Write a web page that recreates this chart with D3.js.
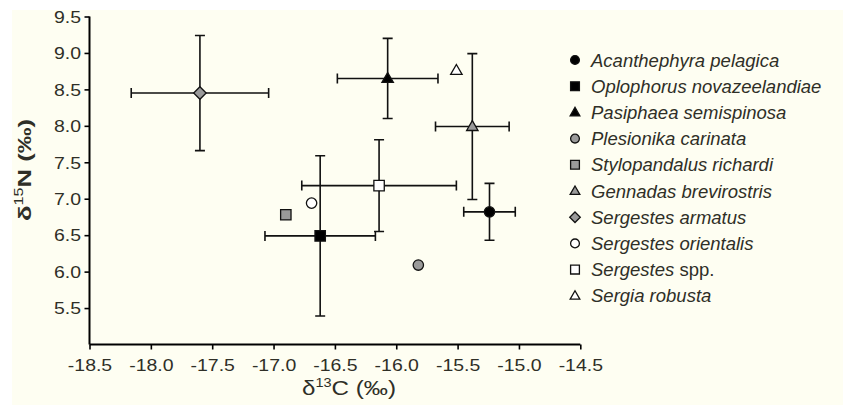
<!DOCTYPE html>
<html>
<head>
<meta charset="utf-8">
<script src="https://cdn.jsdelivr.net/npm/d3@7"></script>
<style>
  body { margin: 0; background: #ffffff; }
  text { font-family: "Liberation Sans", Arial, sans-serif; fill: #2f2f27; }
</style>
</head>
<body>
<svg id="chart" width="843" height="405"></svg>
<script>
// Stable isotope means (and SD where available) for each shrimp species
const species = [
  "Acanthephyra pelagica", "Oplophorus novazeelandiae", "Pasiphaea semispinosa",
  "Plesionika carinata", "Stylopandalus richardi", "Gennadas brevirostris",
  "Sergestes armatus", "Sergestes orientalis", "Sergestes spp.", "Sergia robusta"
];
const d13C   = [-15.24, -16.62, -16.07, -15.82, -16.90, -15.38, -17.60, -16.69, -16.14, -15.51];
const d13Csd = [0.21, 0.45, 0.41, null, null, 0.30, 0.56, null, 0.63, null];
const d15N   = [6.82, 6.49, 8.65, 6.09, 6.78, 7.99, 8.45, 6.94, 7.18, 8.76];
const d15Nsd = [0.39, 1.10, 0.55, null, null, 1.00, 0.79, null, 0.63, null];
const shapes = ["circle", "square", "triangle", "circle", "square", "triangle", "diamond", "circle", "square", "triangle"];
const fills  = ["#000000", "#000000", "#000000", "#9a9a9a", "#9a9a9a", "#9a9a9a", "#9a9a9a", "#ffffff", "#ffffff", "#ffffff"];

const xTicks = [-18.5, -18.0, -17.5, -17.0, -16.5, -16.0, -15.5, -15.0, -14.5];
const yTicks = [5.5, 6.0, 6.5, 7.0, 7.5, 8.0, 8.5, 9.0, 9.5];

const svg = d3.select("#chart");

// panel background
svg.append("rect").attr("x", 12).attr("y", 10).attr("width", 831).attr("height", 395)
  .attr("fill", "#fefef2");

const x = d3.scaleLinear().domain([-18.5, -14.5]).range([89.5, 580.3]);
const y = d3.scaleLinear().domain([5.0, 9.5]).range([344.5, 16.5]);

// marker path generator
function markerPath(shape, s) {
  const p = d3.path();
  if (shape === "circle") {
    p.arc(0, 0, s, 0, 2 * Math.PI);
  } else if (shape === "square") {
    p.rect(-s, -s, 2 * s, 2 * s);
  } else if (shape === "triangle") {
    const h = s * 1.9;
    p.moveTo(0, -h * 0.6); p.lineTo(s * 1.1, h * 0.4); p.lineTo(-s * 1.1, h * 0.4); p.closePath();
  } else if (shape === "diamond") {
    const d = s * 1.2;
    p.moveTo(0, -d); p.lineTo(d, 0); p.lineTo(0, d); p.lineTo(-d, 0); p.closePath();
  }
  return p.toString();
}

// axes (plain hyphen for negative numbers)
const fmt = d => d.toFixed(1);
const xAxis = d3.axisBottom(x).tickValues(xTicks).tickSize(5).tickFormat(fmt);
const yAxis = d3.axisLeft(y).tickValues(yTicks).tickSize(5).tickFormat(fmt);

const gx = svg.append("g").attr("transform", `translate(0,${y(5.0)})`).call(xAxis);
const gy = svg.append("g").attr("transform", `translate(${x(-18.5)},0)`).call(yAxis);

[gx, gy].forEach(g => {
  g.select(".domain").attr("stroke", "#000").attr("stroke-width", 2);
  g.selectAll(".tick line").attr("stroke", "#000").attr("stroke-width", 1.6);
  g.selectAll(".tick text").attr("fill", "#2f2f27").style("font-size", "16.5px");
});
gx.select(".domain").attr("d", `M${x(-18.5)},0H${x(-14.5)}`);
gy.select(".domain").attr("d", `M0,${y(9.5)}V${y(5.0)}`);

gx.selectAll(".tick text")
  .attr("y", 0).attr("dy", 0)
  .attr("transform", "translate(0,26) scale(1.18,1)");
gy.selectAll(".tick text")
  .attr("x", 0).attr("dy", "0.35em")
  .attr("transform", "translate(-8.5,0) scale(1.18,1)");

// axis titles
const xt = svg.append("text").attr("x", 349).attr("y", 395)
  .attr("text-anchor", "middle")
  .attr("textLength", 94).attr("lengthAdjust", "spacingAndGlyphs")
  .style("font-size", "20px");
xt.append("tspan").text("δ");
xt.append("tspan").attr("dy", -8).style("font-size", "12px").text("13");
xt.append("tspan").attr("dy", 8).text("C (‰)");

const yt = svg.append("text")
  .attr("transform", "translate(31,170) rotate(-90)")
  .attr("text-anchor", "middle")
  .attr("textLength", 102).attr("lengthAdjust", "spacingAndGlyphs")
  .style("font-size", "19px").style("font-weight", "bold");
yt.append("tspan").text("δ");
yt.append("tspan").attr("dy", -8).style("font-size", "12px").style("font-weight", "normal").text("15");
yt.append("tspan").attr("dy", 8).text("N (‰)");

// error bars
const idx = d3.range(species.length);
const bars = svg.append("g").attr("stroke", "#111").attr("stroke-width", 1.6).attr("fill", "none");
const cap = 5;
idx.filter(i => d13Csd[i] != null).forEach(i => {
  const x0 = x(d13C[i] - d13Csd[i]), x1 = x(d13C[i] + d13Csd[i]), yy = y(d15N[i]);
  bars.append("path").attr("d",
    `M${x0},${yy}H${x1}M${x0},${yy - cap}V${yy + cap}M${x1},${yy - cap}V${yy + cap}`);
});
idx.filter(i => d15Nsd[i] != null).forEach(i => {
  const y0 = y(d15N[i] - d15Nsd[i]), y1 = y(d15N[i] + d15Nsd[i]), xx = x(d13C[i]);
  bars.append("path").attr("d",
    `M${xx},${y0}V${y1}M${xx - cap},${y0}H${xx + cap}M${xx - cap},${y1}H${xx + cap}`);
});

// markers
svg.append("g").selectAll("path").data(idx).join("path")
  .attr("transform", i => `translate(${x(d13C[i])},${y(d15N[i])})`)
  .attr("d", i => markerPath(shapes[i], 5.2))
  .attr("fill", i => fills[i])
  .attr("stroke", "#111").attr("stroke-width", 1.3);

// legend
const legend = svg.append("g");
const rowY = i => 60 + i * 26.2;
legend.selectAll("path").data(idx).join("path")
  .attr("transform", i => `translate(575,${rowY(i)})`)
  .attr("d", i => markerPath(shapes[i], 4.4))
  .attr("fill", i => fills[i])
  .attr("stroke", "#111").attr("stroke-width", 1.3);

legend.selectAll("text").data(idx).join("text")
  .attr("x", 591).attr("y", i => rowY(i) + 6.5)
  .style("font-size", "18.5px")
  .each(function (i) {
    const t = d3.select(this);
    const name = species[i];
    if (name.endsWith(" spp.")) {
      t.append("tspan").style("font-style", "italic").text(name.replace(" spp.", ""));
      t.append("tspan").text(" spp.");
    } else {
      t.append("tspan").style("font-style", "italic").text(name);
    }
  });
</script>
</body>
</html>
